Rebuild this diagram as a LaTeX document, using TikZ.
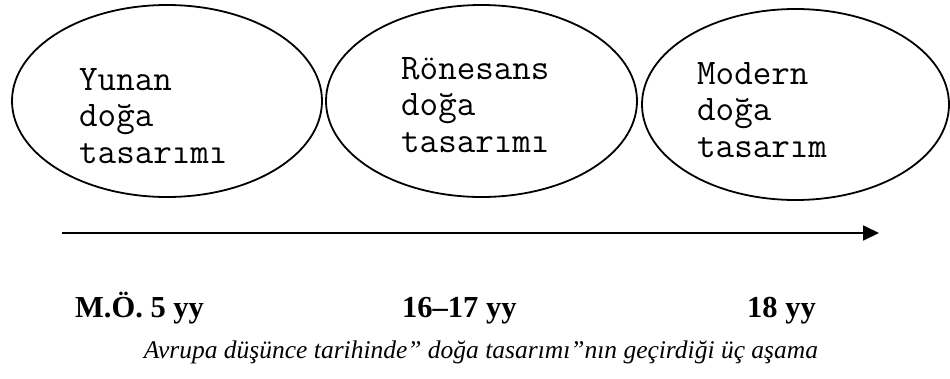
\documentclass[tikz,border=0pt]{standalone}
\usepackage{fontspec}
\setmainfont{Liberation Serif}
\usetikzlibrary{shapes.geometric,arrows.meta}
\begin{document}
\begin{tikzpicture}[x=1pt,y=-1pt,
  era/.style={ellipse,draw,line width=1.8pt,inner sep=0pt},
  eratext/.style={anchor=base west,inner sep=0pt,align=left,
    font=\ttfamily\fontsize{36}{36.5}\selectfont},
  datelabel/.style={anchor=base west,inner sep=0pt,font=\bfseries\fontsize{30.5}{34}\selectfont}]
\useasboundingbox (0,0) rectangle (950,378);
\node[era,minimum width=310pt,minimum height=192pt] (e1) at (167,101) {};
\node[era,minimum width=311pt,minimum height=192pt] (e2) at (481.5,101) {};
\node[era,minimum width=307pt,minimum height=191pt] (e3) at (795.5,104.5) {};
\node[eratext] (t1) at (79,163) {Yunan\\doğa\\tasarımı};
\node[eratext] (t2) at (401,152) {Rönesans\\doğa\\tasarımı};
\node[eratext] (t3) at (697,157) {Modern\\doğa\\tasarım};
\coordinate (a0) at (62,233);
\coordinate (a1) at (879,233);
\draw[line width=1.8pt,-{Triangle[length=16pt,width=15pt]}] (a0) -- (a1);
\node[datelabel] (d1) at (75,317) {M.Ö. 5 yy};
\node[datelabel] (d2) at (402,317) {16–17 yy};
\node[datelabel] (d3) at (747,317) {18 yy};
\node[anchor=base,inner sep=0pt,font=\itshape\fontsize{25.5}{30}\selectfont] (cap) at (481,358)
  {Avrupa düşünce tarihinde” doğa tasarımı”nın geçirdiği üç aşama};
\end{tikzpicture}
\end{document}
